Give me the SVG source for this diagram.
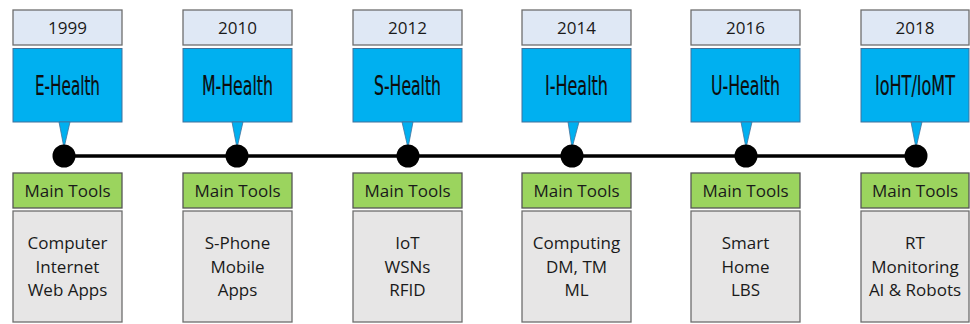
<svg xmlns="http://www.w3.org/2000/svg" width="970" height="324" viewBox="0 0 970 324">
<style>
.yr{fill:#dfe8f5;stroke:#6e6e6e;stroke-width:1.3}
.era{fill:#00b0f0;stroke:#41719c;stroke-width:1}
.ptr{fill:#00b0f0;stroke:#41719c;stroke-width:0.8}
.mt{fill:#9bd45e;stroke:#555;stroke-width:1.3}
.tl{fill:#e7e6e6;stroke:#6e6e6e;stroke-width:1.3}
.t{font-family:"Open Sans",Lato,"Liberation Sans",sans-serif;font-size:17px;fill:#1a1a1a;text-anchor:middle}
.e{font-family:"Liberation Sans Narrow","DejaVu Sans Condensed","Liberation Sans",sans-serif;font-size:20px;fill:#0d0d0d;stroke:#0d0d0d;stroke-width:0.15;text-anchor:middle}
.dot{fill:#000}
</style>
<rect width="970" height="324" fill="#fff"/>
<g id="connectors">
<line x1="64" y1="156" x2="916" y2="156" stroke="#000" stroke-width="3.5"/>
</g>
<g id="n1999">
<rect class="yr" x="13" y="10" width="109" height="35"/>
<text class="t" x="67.5" y="34">1999</text>
<rect class="era" x="13" y="48.5" width="109" height="73.5"/>
<text class="e" transform="translate(67.5,95) scale(1,1.35)" textLength="65" lengthAdjust="spacingAndGlyphs">E-Health</text>
<polygon class="ptr" points="59,122 70,122 64,148"/>
<circle class="dot" cx="64" cy="156" r="11.5"/>
<rect class="mt" x="13" y="173" width="109" height="35"/>
<text class="t" x="67.5" y="196.5">Main Tools</text>
<rect class="tl" x="13" y="211" width="109" height="111"/>
<text class="t" x="67.5" y="249">Computer</text>
<text class="t" x="67.5" y="273">Internet</text>
<text class="t" x="67.5" y="296">Web Apps</text>
</g>
<g id="n2010">
<rect class="yr" x="183" y="10" width="109" height="35"/>
<text class="t" x="237.5" y="34">2010</text>
<rect class="era" x="183" y="48.5" width="109" height="73.5"/>
<text class="e" transform="translate(237.5,95) scale(1,1.35)" textLength="71" lengthAdjust="spacingAndGlyphs">M-Health</text>
<polygon class="ptr" points="232,122 243,122 237,148"/>
<circle class="dot" cx="237" cy="156" r="11.5"/>
<rect class="mt" x="183" y="173" width="109" height="35"/>
<text class="t" x="237.5" y="196.5">Main Tools</text>
<rect class="tl" x="183" y="211" width="109" height="111"/>
<text class="t" x="237.5" y="249">S-Phone</text>
<text class="t" x="237.5" y="273">Mobile</text>
<text class="t" x="237.5" y="296">Apps</text>
</g>
<g id="n2012">
<rect class="yr" x="353" y="10" width="109" height="35"/>
<text class="t" x="407.5" y="34">2012</text>
<rect class="era" x="353" y="48.5" width="109" height="73.5"/>
<text class="e" transform="translate(407.5,95) scale(1,1.35)" textLength="67" lengthAdjust="spacingAndGlyphs">S-Health</text>
<polygon class="ptr" points="402,122 413,122 408,148"/>
<circle class="dot" cx="408" cy="156" r="11.5"/>
<rect class="mt" x="353" y="173" width="109" height="35"/>
<text class="t" x="407.5" y="196.5">Main Tools</text>
<rect class="tl" x="353" y="211" width="109" height="111"/>
<text class="t" x="407.5" y="249">IoT</text>
<text class="t" x="407.5" y="273">WSNs</text>
<text class="t" x="407.5" y="296">RFID</text>
</g>
<g id="n2014">
<rect class="yr" x="522" y="10" width="109" height="35"/>
<text class="t" x="576.5" y="34">2014</text>
<rect class="era" x="522" y="48.5" width="109" height="73.5"/>
<text class="e" transform="translate(576.5,95) scale(1,1.35)" textLength="63" lengthAdjust="spacingAndGlyphs">I-Health</text>
<polygon class="ptr" points="568,122 579,122 572,148"/>
<circle class="dot" cx="572" cy="156" r="11.5"/>
<rect class="mt" x="522" y="173" width="109" height="35"/>
<text class="t" x="576.5" y="196.5">Main Tools</text>
<rect class="tl" x="522" y="211" width="109" height="111"/>
<text class="t" x="576.5" y="249">Computing</text>
<text class="t" x="576.5" y="273">DM, TM</text>
<text class="t" x="576.5" y="296">ML</text>
</g>
<g id="n2016">
<rect class="yr" x="691" y="10" width="109" height="35"/>
<text class="t" x="745.5" y="34">2016</text>
<rect class="era" x="691" y="48.5" width="109" height="73.5"/>
<text class="e" transform="translate(745.5,95) scale(1,1.35)" textLength="69" lengthAdjust="spacingAndGlyphs">U-Health</text>
<polygon class="ptr" points="741,122 752,122 746,148"/>
<circle class="dot" cx="746" cy="156" r="11.5"/>
<rect class="mt" x="691" y="173" width="109" height="35"/>
<text class="t" x="745.5" y="196.5">Main Tools</text>
<rect class="tl" x="691" y="211" width="109" height="111"/>
<text class="t" x="745.5" y="249">Smart</text>
<text class="t" x="745.5" y="273">Home</text>
<text class="t" x="745.5" y="296">LBS</text>
</g>
<g id="n2018">
<rect class="yr" x="861" y="10" width="108" height="35"/>
<text class="t" x="915" y="34">2018</text>
<rect class="era" x="861" y="48.5" width="108" height="73.5"/>
<text class="e" transform="translate(915,95) scale(1,1.35)" textLength="80" lengthAdjust="spacingAndGlyphs">IoHT/IoMT</text>
<polygon class="ptr" points="911,122 922,122 916,148"/>
<circle class="dot" cx="916" cy="156" r="11.5"/>
<rect class="mt" x="861" y="173" width="108" height="35"/>
<text class="t" x="915" y="196.5">Main Tools</text>
<rect class="tl" x="861" y="211" width="108" height="111"/>
<text class="t" x="915" y="249">RT</text>
<text class="t" x="915" y="273">Monitoring</text>
<text class="t" x="915" y="296">AI &amp; Robots</text>
</g>
</svg>
